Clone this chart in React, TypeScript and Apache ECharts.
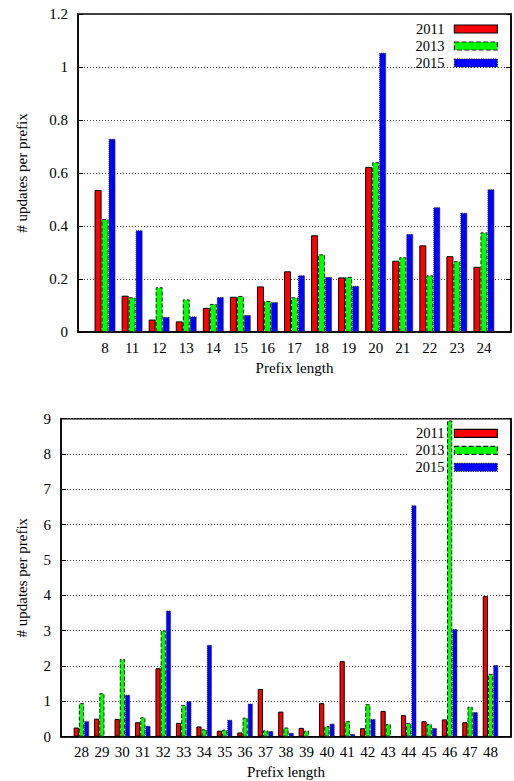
import React, { useEffect, useRef } from 'react';
import * as echarts from 'echarts';

const topCategories = ['8', '11', '12', '13', '14', '15', '16', '17', '18', '19', '20', '21', '22', '23', '24'];
const top2011 = [0.536, 0.137, 0.047, 0.040, 0.091, 0.133, 0.172, 0.229, 0.365, 0.206, 0.623, 0.269, 0.327, 0.286, 0.246];
const top2013 = [0.426, 0.131, 0.169, 0.123, 0.106, 0.136, 0.117, 0.131, 0.293, 0.208, 0.641, 0.282, 0.214, 0.267, 0.376];
const top2015 = [0.729, 0.384, 0.057, 0.059, 0.132, 0.064, 0.113, 0.214, 0.208, 0.174, 1.054, 0.370, 0.471, 0.450, 0.539];

const bottomCategories = ['28', '29', '30', '31', '32', '33', '34', '35', '36', '37', '38', '39', '40', '41', '42', '43', '44', '45', '46', '47', '48'];
const bottom2011 = [0.26, 0.51, 0.50, 0.41, 1.94, 0.39, 0.29, 0.17, 0.12, 1.35, 0.71, 0.25, 0.95, 2.14, 0.24, 0.73, 0.61, 0.44, 0.49, 0.41, 3.98];
const bottom2013 = [0.95, 1.23, 2.20, 0.55, 3.01, 0.90, 0.21, 0.20, 0.54, 0.18, 0.26, 0.17, 0.30, 0.44, 0.92, 0.36, 0.39, 0.36, 8.95, 0.85, 1.78];
const bottom2015 = [0.44, null, 1.19, 0.31, 3.57, 1.01, 2.60, 0.48, 0.94, 0.16, 0.11, null, 0.37, 0.08, 0.50, null, 6.55, 0.25, 3.05, 0.70, 2.03];

const yearNames = ['2011', '2013', '2015'];

const FONT = 'Liberation Serif';
const FS = 15;

const pad = <T,>(arr: T[], empty: T): T[] => [empty, ...arr, empty];

const styles = [
  { color: '#ff0000', borderColor: '#000', borderWidth: 1, borderType: 'solid' },
  { color: '#00ff00', borderColor: '#222', borderWidth: 1, borderType: 'dashed' },
  { color: '#0000ff', borderColor: '#222', borderWidth: 1, borderType: 'dotted' },
];

export default function App() {
  const ref = useRef<HTMLDivElement>(null);
  useEffect(() => {
    if (!ref.current) return;
    const chart = echarts.init(ref.current, null, { renderer: 'svg' });
    const axisText = { fontFamily: FONT, fontSize: FS, color: '#000' };
    const xAxisCommon = (gridIndex: number, cats: string[], margin: number, nameGap: number) => ({
      type: 'category',
      gridIndex,
      data: pad(cats, ''),
      boundaryGap: false,
      axisLine: { show: true, lineStyle: { color: '#000', width: 1.5 } },
      axisTick: { show: false },
      axisLabel: { ...axisText, interval: 0, margin },
      splitLine: { show: false },
      name: 'Prefix length',
      nameLocation: 'middle',
      nameGap,
      nameTextStyle: axisText,
    });
    const yLeft = (gridIndex: number, max: number, interval: number, nameGap: number, fmt: (v: number) => string) => ({
      type: 'value',
      gridIndex,
      min: 0,
      max,
      interval,
      position: 'left',
      axisLine: { show: true, lineStyle: { color: '#000', width: 1.5 } },
      axisTick: { show: true, inside: true, length: 5, lineStyle: { color: '#000' } },
      axisLabel: { ...axisText, margin: 10, formatter: fmt },
      splitLine: { show: true, lineStyle: { color: '#444', type: [1, 2], width: 1 } },
      name: '# updates per prefix',
      nameLocation: 'middle',
      nameGap,
      nameTextStyle: axisText,
    });
    const yRight = (gridIndex: number, max: number, interval: number) => ({
      type: 'value',
      gridIndex,
      min: 0,
      max,
      interval,
      position: 'right',
      axisLine: { show: true, lineStyle: { color: '#000', width: 1.5 } },
      axisTick: { show: true, inside: true, length: 5, lineStyle: { color: '#000' } },
      axisLabel: { show: false },
      splitLine: { show: false },
    });
    const makeSeries = (xi: number, yi: number, data: (number | null)[][], bw: number) =>
      data.map((d, i) => ({
        type: 'bar',
        name: yearNames[i],
        xAxisIndex: xi,
        yAxisIndex: yi,
        data: pad(d, null),
        barWidth: bw,
        barGap: '0%',
        itemStyle: styles[i],
        z: 3,
      }));
    const legendCommon = {
      orient: 'vertical',
      align: 'right',
      itemWidth: 43,
      itemHeight: 8,
      itemGap: 2,
      icon: 'rect',
      selectedMode: false,
      data: yearNames.map((n, i) => ({ name: n, itemStyle: { ...styles[i], borderWidth: 1.2 } })),
      textStyle: { fontFamily: FONT, fontSize: 14.5, color: '#000', lineHeight: 13, padding: [0, 5, 0, 0] },
    };
    chart.setOption({
      animation: false,
      backgroundColor: '#fff',
      grid: [
        { left: 78, right: 1, top: 14, height: 318, show: true, borderColor: '#000', borderWidth: 1.5, backgroundColor: 'transparent' },
        { left: 61, right: 1, top: 418.7, height: 318, show: true, borderColor: '#000', borderWidth: 1.5, backgroundColor: 'transparent' },
      ],
      xAxis: [
        xAxisCommon(0, topCategories, 8, 28),
        xAxisCommon(1, bottomCategories, 8, 28),
      ],
      yAxis: [
        yLeft(0, 1.2, 0.2, 49, (v: number) => String(Math.round(v * 10) / 10)),
        yLeft(1, 9, 1, 32, (v: number) => String(v)),
        yRight(0, 1.2, 0.2),
        yRight(1, 9, 1),
      ],
      legend: [
        { ...legendCommon, right: 16, top: 21.5, padding: 0 },
        { ...legendCommon, right: 7, top: 420.8, padding: [5, 9, 5, 8], backgroundColor: '#fff', z: 1 },
      ],
      series: [
        ...makeSeries(0, 0, [top2011, top2013, top2015], 7),
        ...makeSeries(1, 1, [bottom2011, bottom2013, bottom2015], 5.2),
      ],
    });
    return () => chart.dispose();
  }, []);
  return (
    <div
      ref={ref}
      style={{ position: 'fixed', left: 0, top: 0, width: 514, height: 781, background: '#fff' }}
    />
  );
}
